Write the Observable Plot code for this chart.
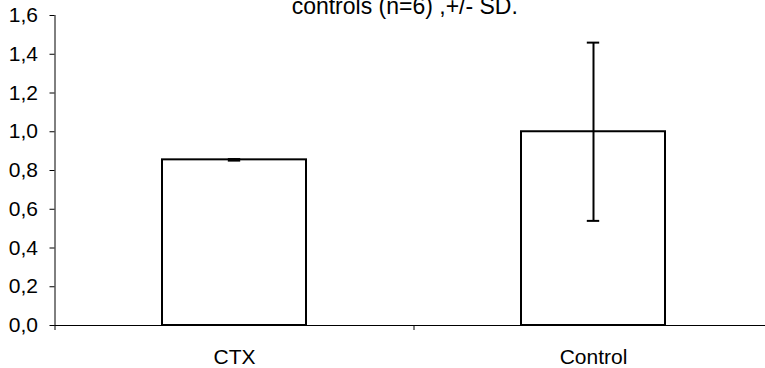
<!DOCTYPE html>
<html>
<head>
<meta charset="utf-8">
<script src="https://cdn.jsdelivr.net/npm/d3@7"></script>
<script src="https://cdn.jsdelivr.net/npm/@observablehq/plot@0.6"></script>
<style>
  html, body { margin: 0; padding: 0; background: #fff; }
  svg { display: block; }
</style>
</head>
<body>
<div id="chart"></div>
<script>
const categories = ["CTX", "Control"];
const means = [0.855, 1.0];
const sds = [0.004, 0.46];
const yTicks = [0, 0.2, 0.4, 0.6, 0.8, 1.0, 1.2, 1.4, 1.6];
const title = "controls (n=6) ,+/- SD.";

const data = categories.map((c, i) => ({cat: c, mean: means[i], lo: means[i] - sds[i], hi: means[i] + sds[i]}));
const fmt = d => d3.format(".1f")(d).replace(".", ",");

const W = 765, H = 368;
const xRange = [54.5, 772.5];
const step = (xRange[1] - xRange[0]) / 2;

const chart = Plot.plot({
  width: W,
  height: H,
  marginTop: 15,
  marginBottom: 43,
  marginLeft: 54.5,
  marginRight: 0,
  style: {fontFamily: "'Liberation Sans', Arial, sans-serif", fontSize: "21px", color: "#000", background: "#fff"},
  x: {domain: categories, range: xRange, paddingInner: 0.6, paddingOuter: 0.3, label: null},
  y: {domain: [0, 1.6], range: [325, 15], label: null},
  marks: [
    Plot.barY(data, {x: "cat", y: "mean", fill: "#fff", stroke: "#000", strokeWidth: 2}),
    Plot.ruleX(data, {x: "cat", y1: "lo", y2: "hi", stroke: "#000", strokeWidth: 2}),
    Plot.tickY(data, {x: "cat", y: "lo", stroke: "#000", strokeWidth: 2, insetLeft: 65.8, insetRight: 65.8}),
    Plot.tickY(data, {x: "cat", y: "hi", stroke: "#000", strokeWidth: 2, insetLeft: 65.8, insetRight: 65.8}),
    Plot.ruleY([0], {stroke: "#000", strokeWidth: 1}),
    Plot.axisY({ticks: yTicks, tickFormat: fmt, tickSize: 5, tickPadding: 12, stroke: "#000", fill: "#000", fontSize: 21}),
    Plot.frame({anchor: "left", stroke: "#000"}),
    Plot.axisX({tickSize: 0, tickPadding: 24, fill: "#000", fontSize: 21}),
    Plot.axisX({tickSize: 5, tickFormat: null, dx: -step / 2, stroke: "#000"}),
    Plot.text([title], {frameAnchor: "top", lineAnchor: "top", dy: -17.8, dx: -5.5, fill: "#000", fontSize: 23})
  ]
});
document.getElementById("chart").appendChild(chart);
</script>
</body>
</html>
